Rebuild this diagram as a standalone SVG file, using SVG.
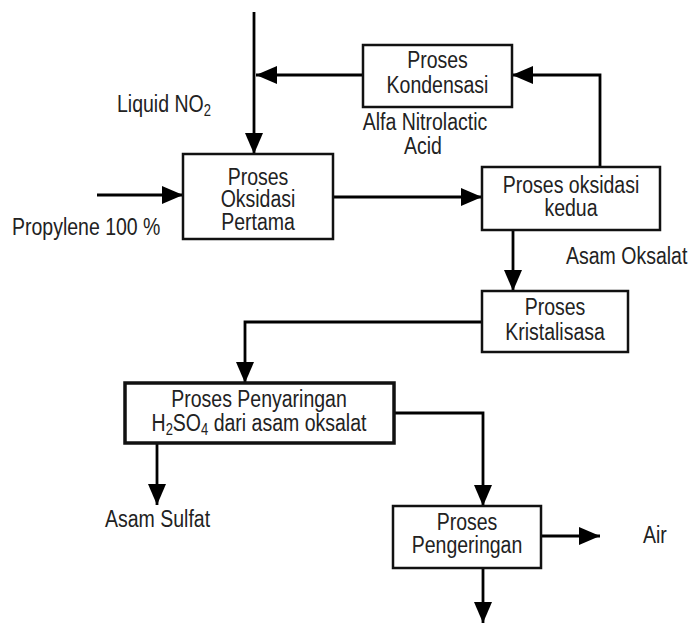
<svg xmlns="http://www.w3.org/2000/svg" width="691" height="626" viewBox="0 0 691 626">
<defs>
<marker id="ah" markerUnits="userSpaceOnUse" markerWidth="22" markerHeight="20" viewBox="0 0 22 20" refX="21" refY="10" orient="auto">
<path d="M0,1 L21,10 L0,19 Z" fill="#000"/>
</marker>
<style>
.box{fill:#fff;stroke:#111;stroke-width:2.5}
.thick{stroke-width:3.5}
.ln{fill:none;stroke:#000;stroke-width:2.8;marker-end:url(#ah)}
text{font-family:"Liberation Sans",Arial,sans-serif;font-size:19.5px;fill:#222}
.c{text-anchor:middle}
.sub{font-size:13px}
</style>
</defs>
<rect width="691" height="626" fill="#fff"/>
<g id="connectors">
<path class="ln" d="M254,12 L254,154"/>
<path class="ln" d="M363,75 L256,75"/>
<path class="ln" d="M97,195 L183,195"/>
<path class="ln" d="M333,197 L482,197"/>
<path class="ln" d="M600,167 L600,75 L512,75"/>
<path class="ln" d="M513,230 L513,291"/>
<path class="ln" d="M482,322 L245,322 L245,383"/>
<path class="ln" d="M394,413 L483,413 L483,506"/>
<path class="ln" d="M157,443 L157,505"/>
<path class="ln" d="M541,536 L600,536"/>
<path class="ln" d="M483,568 L483,623"/>
</g>
<g id="n_pertama">
<rect class="box" x="183" y="154" width="150" height="85"/>
<text class="c" transform="translate(258,185) scale(1,1.25)">Proses</text>
<text class="c" transform="translate(258,207) scale(1,1.25)">Oksidasi</text>
<text class="c" transform="translate(258,230) scale(1,1.25)">Pertama</text>
</g>
<g id="n_kondensasi">
<rect class="box" x="363" y="45" width="149" height="62"/>
<text class="c" transform="translate(437.5,68) scale(1,1.25)">Proses</text>
<text class="c" transform="translate(437.5,93) scale(1,1.25)">Kondensasi</text>
</g>
<g id="n_kedua">
<rect class="box" x="482" y="167" width="178" height="63"/>
<text class="c" transform="translate(571,193) scale(1,1.25)">Proses oksidasi</text>
<text class="c" transform="translate(571,216) scale(1,1.25)">kedua</text>
</g>
<g id="n_kristal">
<rect class="box" x="482" y="291" width="146" height="61"/>
<text class="c" transform="translate(555,315) scale(1,1.25)">Proses</text>
<text class="c" transform="translate(555,340) scale(1,1.25)">Kristalisasa</text>
</g>
<g id="n_penyaringan">
<rect class="box thick" x="125" y="383" width="269" height="60"/>
<text class="c" transform="translate(259,407) scale(1,1.25)">Proses Penyaringan</text>
<text class="c" transform="translate(259,431) scale(1,1.25)">H<tspan class="sub" dy="3">2</tspan><tspan dy="-3">SO</tspan><tspan class="sub" dy="3">4</tspan><tspan dy="-3"> dari asam oksalat</tspan></text>
</g>
<g id="n_pengeringan">
<rect class="box" x="393" y="506" width="148" height="62"/>
<text class="c" transform="translate(467,530) scale(1,1.25)">Proses</text>
<text class="c" transform="translate(467,553) scale(1,1.25)">Pengeringan</text>
</g>
<g id="labels">
<text transform="translate(117,112) scale(1,1.25)">Liquid NO<tspan class="sub" dy="3">2</tspan></text>
<text class="c" transform="translate(425,130) scale(1,1.25)">Alfa Nitrolactic</text>
<text class="c" transform="translate(423,154) scale(1,1.25)">Acid</text>
<text transform="translate(12,235) scale(1,1.25)">Propylene 100 %</text>
<text transform="translate(566,264) scale(1,1.25)">Asam Oksalat</text>
<text transform="translate(105,527) scale(1,1.25)">Asam Sulfat</text>
<text transform="translate(643,543) scale(1,1.25)">Air</text>
</g>
</svg>
